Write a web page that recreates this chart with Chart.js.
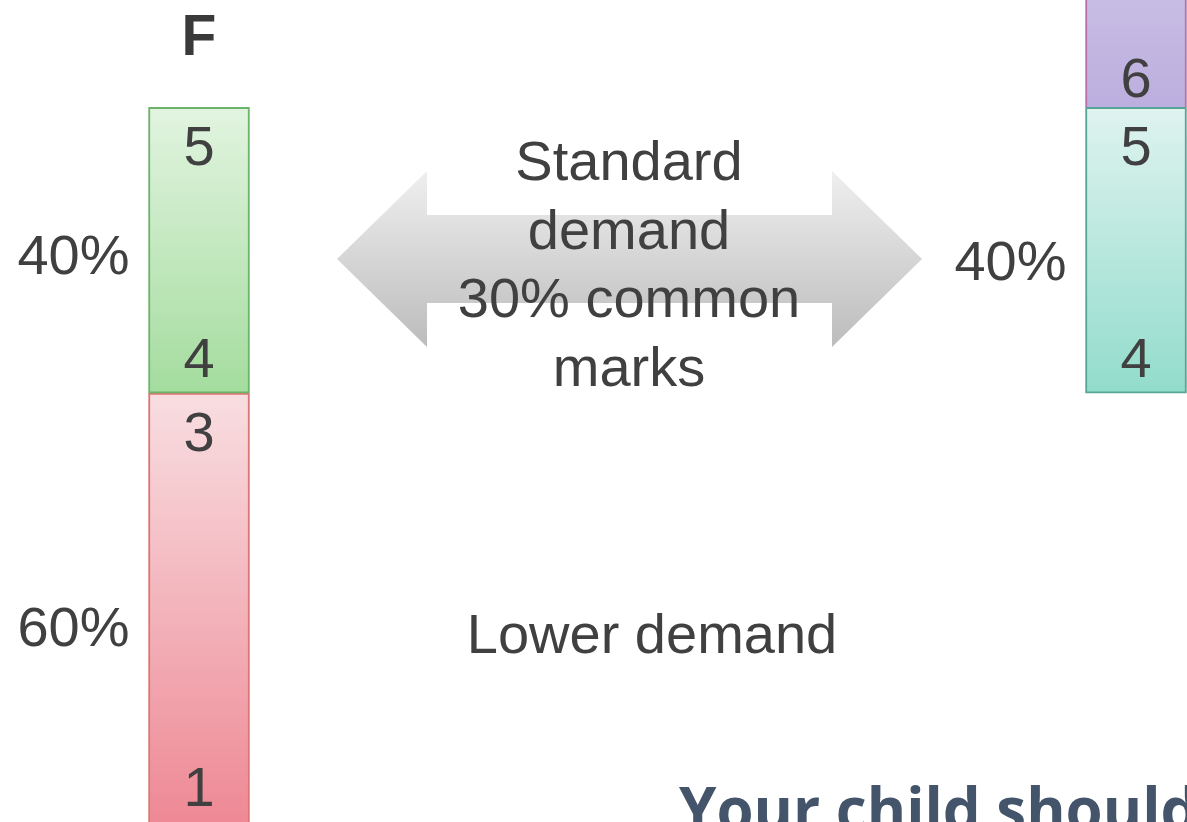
<!DOCTYPE html>
<html lang="en">
<head>
    <meta charset="UTF-8">
    <title>Tier demand</title>
    <script src="https://cdn.jsdelivr.net/npm/chart.js"></script>
    <style>
        html, body { margin: 0; padding: 0; background: #ffffff; overflow: hidden; }
        .wrap { position: relative; width: 1187px; height: 822px; }
    </style>
</head>
<body>
    <div class="wrap">
        <canvas id="tierChart"></canvas>
    </div>

    <script>
        // Tiers and grade bands (values in % of the tier)
        const tiers = ['F', 'H'];
        const lowerBand = [[0, 60], null];
        const middleBand = [[60, 100], [60, 100]];
        const upperBand = [null, [100, 120]];

        // Grades written at the top / bottom of each band
        const lowerGrades = [['3', '1'], null];
        const middleGrades = [['5', '4'], ['5', '4']];
        const upperGrades = [null, ['', '6']];

        // Share of the tier shown next to each band
        const lowerShares = ['60%', null];
        const middleShares = ['40%', '40%'];

        const overlapText = ['Standard', 'demand', '30% common', 'marks'];
        const lowerText = 'Lower demand';
        const footerText = 'Your child should';

        const textColor = '#404040';
        const numFont = '56px "Liberation Sans", Arial, sans-serif';

        // vertical gradient between the two ends of a floating bar
        function bandFill(stopsFor) {
            return ctx => {
                const stops = stopsFor(ctx.dataIndex);
                const chart = ctx.chart;
                if (!chart.chartArea || !ctx.raw) return stops[1];
                const y = chart.scales.y;
                const g = chart.ctx.createLinearGradient(0, y.getPixelForValue(ctx.raw[1]), 0, y.getPixelForValue(ctx.raw[0]));
                g.addColorStop(0, stops[0]);
                g.addColorStop(1, stops[1]);
                return g;
            };
        }

        // grades inside bars + shares beside them
        const labelPlugin = {
            id: 'bandLabels',
            beforeDatasetsDraw(chart) {
                // double arrow between the two tiers
                const c = chart.ctx;
                const tipL = 337, baseL = 427, baseR = 832, tipR = 922;
                const mid = 259, shaft = 44, head = 88;
                const g = c.createLinearGradient(0, mid - head, 0, mid + head);
                g.addColorStop(0, '#efefef');
                g.addColorStop(1, '#bcbcbc');
                c.save();
                c.beginPath();
                c.moveTo(tipL, mid);
                c.lineTo(baseL, mid - head);
                c.lineTo(baseL, mid - shaft);
                c.lineTo(baseR, mid - shaft);
                c.lineTo(baseR, mid - head);
                c.lineTo(tipR, mid);
                c.lineTo(baseR, mid + head);
                c.lineTo(baseR, mid + shaft);
                c.lineTo(baseL, mid + shaft);
                c.lineTo(baseL, mid + head);
                c.closePath();
                c.fillStyle = g;
                c.fill();
                c.restore();
            },
            afterDatasetsDraw(chart) {
                const c = chart.ctx;
                c.save();
                c.fillStyle = textColor;
                c.font = numFont;
                c.textAlign = 'center';
                c.textBaseline = 'alphabetic';

                const gradeSets = [middleGrades, lowerGrades, upperGrades];
                const shareSets = [middleShares, lowerShares, null];
                chart.data.datasets.forEach((ds, di) => {
                    const meta = chart.getDatasetMeta(di);
                    meta.data.forEach((el, i) => {
                        if (!ds.data[i]) return;
                        const top = el.y, bottom = el.base;
                        const g = gradeSets[di][i];
                        if (g) {
                            c.textAlign = 'center';
                            if (g[0]) c.fillText(g[0], el.x, top + 58);
                            if (g[1]) c.fillText(g[1], el.x, Math.min(bottom, chart.height) - (di === 2 ? 10 : 16));
                        }
                        const s = shareSets[di] && shareSets[di][i];
                        if (s) {
                            c.textAlign = 'right';
                            const mid = (top + Math.min(bottom, chart.height)) / 2;
                            c.fillText(s, el.x - el.width / 2 - 19, mid + (i === 1 ? 30 : 24 + (di === 1 ? 14 : 0)));
                        }
                    });
                });

                // tier name above the first bar
                const x = chart.scales.x;
                c.textAlign = 'center';
                c.font = 'bold 57px "Liberation Sans", Arial, sans-serif';
                c.fillStyle = '#3a3a3a';
                c.fillText(tiers[0], x.getPixelForValue(0), 55);

                // centre texts
                c.font = numFont;
                c.fillStyle = textColor;
                overlapText.forEach((t, k) => c.fillText(t, 629, 180 + k * 68.5));
                c.fillText(lowerText, 652, 653);

                c.textAlign = 'left';
                c.font = 'bold 60px "Open Sans", sans-serif';
                c.fillStyle = '#44546a';
                c.fillText(footerText, 679, 831);
                c.restore();
            }
        };

        new Chart(document.getElementById('tierChart'), {
            type: 'bar',
            data: {
                labels: tiers,
                datasets: [
                    {
                        label: 'Standard demand',
                        data: middleBand,
                        backgroundColor: bandFill(i => i === 0 ? ['#e2f4e0', '#a4dc9e'] : ['#dff3ef', '#92dccc']),
                        borderColor: ctx => ctx.dataIndex === 0 ? '#6cb46a' : '#56a597',
                        borderWidth: 2,
                        borderSkipped: false
                    },
                    {
                        label: 'Lower demand',
                        data: lowerBand,
                        backgroundColor: bandFill(() => ['#f8dee1', '#ee8995']),
                        borderColor: '#dc7474',
                        borderWidth: 2,
                        borderSkipped: 'bottom'
                    },
                    {
                        label: 'Higher demand',
                        data: upperBand,
                        backgroundColor: bandFill(() => ['#cbc2e6', '#bcaede']),
                        borderColor: '#b66fae',
                        borderWidth: 2,
                        borderSkipped: 'bottom'
                    }
                ]
            },
            options: {
                responsive: true,
                maintainAspectRatio: false,
                animation: false,
                layout: { padding: { left: 199, right: 51, top: 0, bottom: 0 } },
                datasets: { bar: { grouped: false, barThickness: 101, clip: false } },
                plugins: { legend: { display: false }, tooltip: { enabled: false } },
                scales: {
                    x: { display: false, offset: false },
                    y: { display: false, min: 0, max: 115 }
                }
            },
            plugins: [labelPlugin]
        });
    </script>
</body>
</html>
